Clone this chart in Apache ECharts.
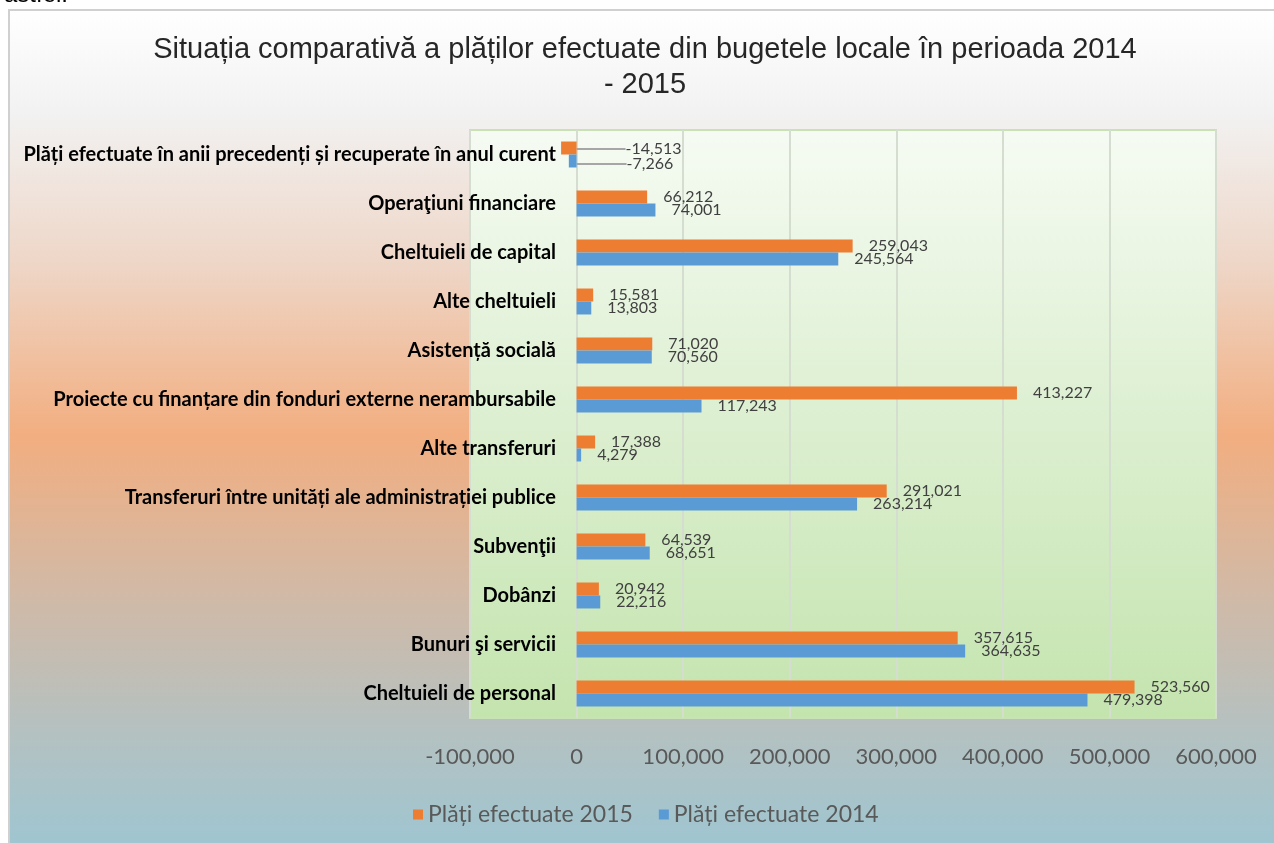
<!DOCTYPE html>
<html>
<head>
<meta charset="utf-8">
<script src="https://cdn.jsdelivr.net/npm/echarts@6/dist/echarts.min.js"></script>
<style>
html,body{margin:0;padding:0;background:#fff;}
#chart{width:1274px;height:843px;}
</style>
</head>
<body>
<div id="chart"></div>
<script>
const titleText = 'Situația comparativă a plăților efectuate din bugetele locale în perioada 2014\n- 2015';
const categories = [
  'Cheltuieli de personal',
  'Bunuri şi servicii',
  'Dobânzi',
  'Subvenţii',
  'Transferuri între unități ale administrației publice',
  'Alte transferuri',
  'Proiecte cu finanțare din fonduri externe nerambursabile',
  'Asistență socială',
  'Alte cheltuieli',
  'Cheltuieli de capital',
  'Operaţiuni financiare',
  'Plăți efectuate în anii precedenți și recuperate în anul curent'
];
const seriesNames = ['Plăți efectuate 2015', 'Plăți efectuate 2014'];
const values2015 = [523560, 357615, 20942, 64539, 291021, 17388, 413227, 71020, 15581, 259043, 66212, -14513];
const values2014 = [479398, 364635, 22216, 68651, 263214, 4279, 117243, 70560, 13803, 245564, 74001, -7266];
const xTicks = [-100000, 0, 100000, 200000, 300000, 400000, 500000, 600000];

const fmt = v => Number(v).toLocaleString('en-US');

const chart = echarts.init(document.getElementById('chart'), null, {renderer: 'canvas'});

function barSeries(name, data, color, negDx, negDy) {
  return {
    name: name,
    type: 'bar',
    data: data.map(v => ({value: v, labelLine: {show: v < 0}})),
    barGap: '0%',
    barCategoryGap: '47%',
    itemStyle: {color: color},
    label: {
      show: true,
      position: 'right',
      distance: 16,
      formatter: p => fmt(p.value),
      fontFamily: 'Lato',
      fontSize: 16,
      color: '#404040'
    },
    labelLine: {show: false, lineStyle: {color: '#a6a6a6', width: 2}},
    labelLayout: function (params) {
      const v = data[params.dataIndex];
      if (v < 0) {
        return {dx: negDx, dy: negDy};
      }
      return {};
    }
  };
}

const option = {
  animation: false,
  title: {
    text: titleText,
    left: 640,
    top: 27,
    textAlign: 'center',
    textStyle: {
      fontFamily: 'Liberation Sans',
      fontSize: 29,
      fontWeight: 'normal',
      color: '#262626',
      lineHeight: 35
    }
  },
  graphic: [
    {
      type: 'rect',
      z: -100,
      silent: true,
      shape: {x: 9, y: 10, width: 1280, height: 850},
      style: {
        fill: new echarts.graphic.LinearGradient(0, 0, 0, 1, [
          {offset: 0, color: '#ffffff'},
          {offset: 0.12, color: '#f2f2f2'},
          {offset: 0.30, color: '#eed6c7'},
          {offset: 0.50, color: '#f2ae80'},
          {offset: 0.68, color: '#d2b9a5'},
          {offset: 0.85, color: '#b4c1c1'},
          {offset: 1, color: '#9cc6d3'}
        ]),
        stroke: '#d0d0d0',
        lineWidth: 2
      }
    },
    {
      type: 'text',
      z: 10,
      left: 4,
      top: -17,
      style: {text: 'astfel:', font: '24px "Liberation Sans"', fill: '#000'}
    }
  ],
  legend: {
    data: seriesNames,
    bottom: 12,
    left: 408,
    icon: 'rect',
    itemWidth: 10,
    itemHeight: 10,
    itemGap: 26,
    textStyle: {fontFamily: 'Lato', fontSize: 23, color: '#595959'}
  },
  grid: {
    left: 470,
    right: 58,
    top: 130,
    bottom: 125,
    show: true,
    backgroundColor: new echarts.graphic.LinearGradient(0, 0, 0, 1, [
      {offset: 0, color: '#f6fbf3'},
      {offset: 0.5, color: '#dcefd0'},
      {offset: 1, color: '#c4e4ae'}
    ]),
    borderColor: '#c8e2b6',
    borderWidth: 2,
    containLabel: false,
    outerBoundsMode: 'none'
  },
  xAxis: {
    type: 'value',
    min: xTicks[0],
    max: xTicks[xTicks.length - 1],
    interval: xTicks[1] - xTicks[0],
    axisLine: {show: false},
    axisTick: {show: false},
    splitLine: {lineStyle: {color: '#d5ddd0', width: 2}},
    axisLabel: {
      formatter: v => fmt(v),
      fontFamily: 'Lato',
      fontSize: 22,
      color: '#595959',
      margin: 28
    }
  },
  yAxis: {
    type: 'category',
    data: categories,
    axisLine: {show: false},
    axisTick: {show: false},
    axisLabel: {
      fontFamily: 'Lato',
      fontWeight: 'bold',
      fontSize: 20,
      color: '#000',
      margin: -86
    }
  },
  series: [
    barSeries(seriesNames[0], values2015, '#ed7d31', 33, 1),
    barSeries(seriesNames[1], values2014, '#5b9bd5', 34, 3)
  ]
};
chart.setOption(option);
</script>
</body>
</html>
